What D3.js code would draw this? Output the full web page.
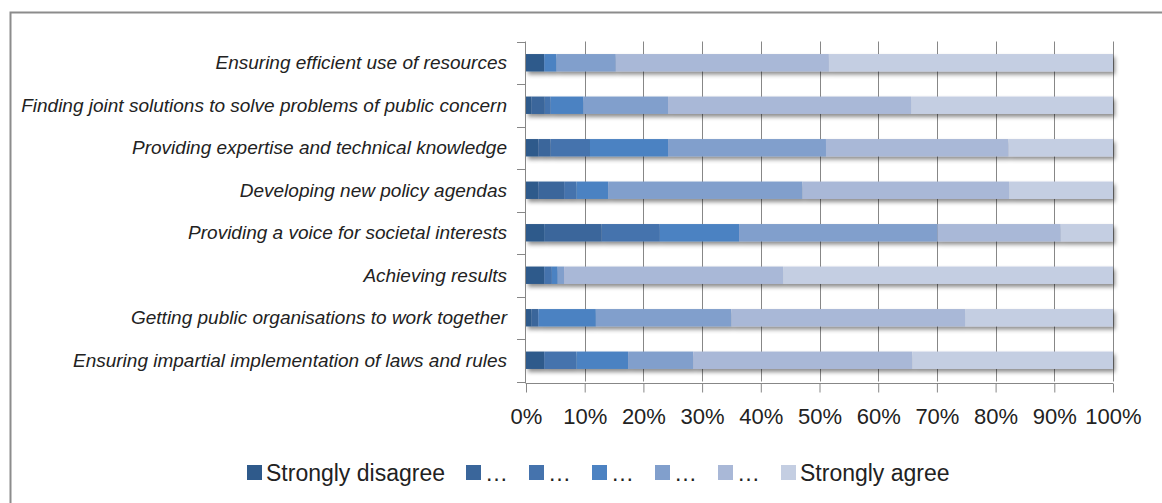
<!DOCTYPE html>
<html>
<head>
<meta charset="utf-8">
<script src="https://cdn.jsdelivr.net/npm/d3@7"></script>
<style>
body{margin:0;background:#fff;}
svg{display:block;}
</style>
</head>
<body>
<svg id="chart"></svg>
<script>
var width=1162, height=503;

var categories=[
    "Ensuring efficient use of resources",
    "Finding joint solutions to solve problems of public concern",
    "Providing expertise and technical knowledge",
    "Developing new policy agendas",
    "Providing a voice for societal interests",
    "Achieving results ",
    "Getting public organisations to work together",
    "Ensuring impartial implementation of laws and rules"
];

var seriesNames=["Strongly disagree","…","…","…","…","…","Strongly agree"];
var seriesColors=["#2f5a8b","#3a669b","#4573ad","#4c82c2","#819fcc","#a9b8d7","#c4cee2"];

// one array per answer level, values in % in category order (top to bottom)
var s1=[3.1, 0.9, 2.1, 2.1, 3.1, 3.1, 0.9, 3.1];
var s2=[0.0, 2.3, 2.1, 4.4, 9.8, 0.0, 1.2, 0.0];
var s3=[0.0, 1.0, 6.7, 2.1, 9.9, 1.3, 0.0, 5.5];
var s4=[2.1, 5.6,13.3, 5.4,13.5, 1.0, 9.8, 8.8];
var s5=[10.1,14.4,26.9,33.1,33.8, 1.1,23.1,11.1];
var s6=[36.3,41.4,31.1,35.2,21.0,37.3,39.8,37.3];
var s7=[48.4,34.4,17.8,17.7, 8.9,56.2,25.2,34.2];

var xTicks=[0,10,20,30,40,50,60,70,80,90,100];

var series=[s1,s2,s3,s4,s5,s6,s7];
var rows=categories.map(function(c,i){
    var r={cat:c};
    series.forEach(function(s,k){r["k"+k]=s[i];});
    return r;
});
var stack=d3.stack().keys(series.map(function(s,k){return "k"+k;}))(rows);

var svg=d3.select("#chart").attr("width",width).attr("height",height);

var defs=svg.append("defs");
var f=defs.append("filter").attr("id","shadow")
    .attr("x","-5%").attr("y","-40%").attr("width","110%").attr("height","200%");
f.append("feDropShadow").attr("dx",2).attr("dy",3).attr("stdDeviation",2)
    .attr("flood-color","#000").attr("flood-opacity",0.45);

// outer chart frame
svg.append("rect")
    .attr("x",10.5).attr("y",12.5)
    .attr("width",width+20).attr("height",height+20)
    .attr("fill","#fff").attr("stroke","#8c8c8c").attr("stroke-width",2);

var x=d3.scaleLinear().domain([0,100]).range([526,1113]);
var y=d3.scaleBand().domain(categories).range([41.5,381.5])
    .paddingInner(0.59).paddingOuter(0.295);

var gridColor="#878787";
var font="'Liberation Sans',Arial,sans-serif";

// vertical gridlines
svg.append("g").attr("class","grid")
    .selectAll("line").data(xTicks.slice(1)).enter().append("line")
    .attr("x1",function(d){return Math.round(x(d))+0.5;})
    .attr("x2",function(d){return Math.round(x(d))+0.5;})
    .attr("y1",41.5).attr("y2",381.5)
    .attr("stroke",gridColor).attr("stroke-width",1);

// bars
var layer=svg.append("g").attr("class","bars");
var rowG=layer.selectAll("g").data(categories).enter().append("g")
    .attr("filter","url(#shadow)");
rowG.selectAll("rect")
    .data(function(c,i){return stack.map(function(s,k){return {k:k,v:s[i]};});})
    .enter().append("rect")
    .attr("x",function(d){return x(d.v[0]);})
    .attr("width",function(d){return Math.max(0,x(d.v[1])-x(d.v[0]));})
    .attr("y",function(d){return y(d.v.data.cat);})
    .attr("height",y.bandwidth())
    .attr("fill",function(d){return seriesColors[d.k];});

// x axis
var xAxis=svg.append("g").attr("transform","translate(0,383.5)")
    .call(d3.axisBottom(x).tickValues(xTicks).tickSize(9).tickPadding(16)
        .tickFormat(function(d){return d+"%";}));
xAxis.select(".domain").attr("stroke",gridColor).attr("d","M"+x(0)+",0H"+x(100));
xAxis.selectAll(".tick line").attr("stroke",gridColor);
xAxis.selectAll(".tick text")
    .attr("fill","#222").style("font-family",font)
    .style("font-size","22px");

// y axis
var yAxisG=svg.append("g").attr("class","yaxis");
yAxisG.append("line")
    .attr("x1",525.5).attr("x2",525.5).attr("y1",41.5).attr("y2",383.5)
    .attr("stroke",gridColor);
var bounds=d3.range(categories.length+1).map(function(i){return 41.5+i*y.step();});
yAxisG.selectAll("line.tk").data(bounds).enter().append("line").attr("class","tk")
    .attr("x1",517).attr("x2",526)
    .attr("y1",function(d){return Math.round(d)+0.5;})
    .attr("y2",function(d){return Math.round(d)+0.5;})
    .attr("stroke",gridColor);
yAxisG.selectAll("text").data(categories).enter().append("text")
    .attr("x",507)
    .attr("y",function(d){return y(d)+y.bandwidth()/2;})
    .attr("dy","0.35em")
    .attr("text-anchor","end")
    .attr("fill","#222")
    .style("font-family",font)
    .style("font-style","italic")
    .style("font-size","19px")
    .text(function(d){return d;});

// legend
var legend=svg.append("g").attr("class","legend");
var lx=247, ly=473;
seriesNames.forEach(function(name,k){
    var g=legend.append("g").attr("transform","translate("+lx+","+ly+")");
    g.append("rect").attr("x",0).attr("y",-8).attr("width",15).attr("height",15)
        .attr("fill",seriesColors[k]);
    var t=g.append("text").attr("x",19).attr("y",0).attr("dy","0.35em")
        .attr("fill","#222")
        .style("font-family",font)
        .style("font-size","23px")
        .text(name);
    lx+=19+t.node().getComputedTextLength()+21;
});
</script>
</body>
</html>
